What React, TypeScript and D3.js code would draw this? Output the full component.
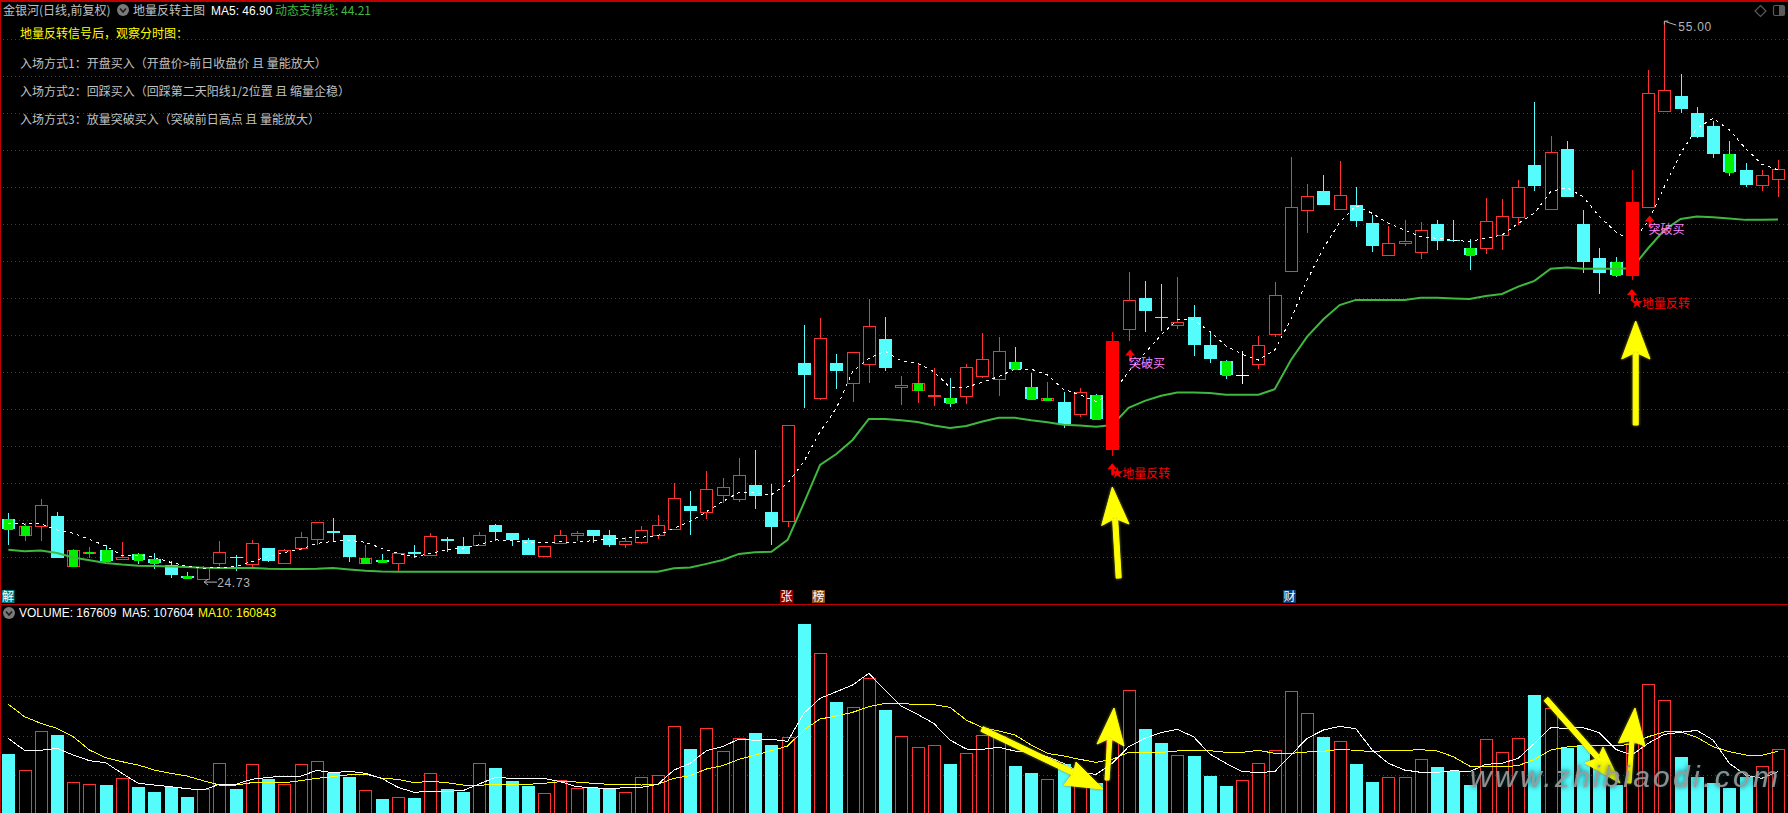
import React from "react";
import * as d3 from "d3";

const W = 1788;
const H = 813;

const kinds = ("g m u d m m g u g g d g u u d u d u u u d d m g u d u d d u d d d u u u d d u u " +
  "u u d u u u d d u d u d u u d u m u g u u u g g m d u g s u d d u d d g w u u u " +
  "u d u d d u u u d d g u u u d u d d d g s u u d d d g d u u").split(" ");

const opens = [27.96,27.11,27.60,28.13,25.43,26.14,26.26,25.81,26.07,25.81,25.45,24.87,24.73,25.60,25.90,25.54,26.39,25.56,26.41,26.90,
  27.31,27.10,25.60,25.74,25.56,26.17,26.03,26.86,26.48,26.57,27.64,27.21,26.83,25.98,26.65,27.10,27.37,27.10,26.63,26.74,
  27.10,27.44,28.67,28.36,29.29,29.07,29.81,28.35,27.88,36.43,34.55,36.43,35.36,36.39,37.73,35.11,34.98,34.64,34.53,34.65,
  35.74,35.58,36.48,35.13,34.44,34.31,33.68,34.69,31.73,38.29,39.95,38.92,38.51,38.92,37.40,36.52,35.74,36.39,38.02,41.44,
  44.71,45.76,44.80,45.00,44.02,42.30,42.94,42.47,43.97,43.08,42.67,42.68,43.39,44.37,47.17,44.80,48.04,43.97,42.12,41.91,
  41.15,44.91,50.12,50.91,49.99,49.28,47.77,46.90,46.08,46.41];
const closes = [27.42,27.60,28.71,25.85,26.26,26.19,25.70,25.88,25.74,25.56,24.93,24.78,25.38,26.16,25.87,26.64,25.69,26.26,26.97,27.78,
  27.22,25.90,25.85,25.63,26.10,26.08,27.02,26.79,26.07,27.08,27.26,26.83,26.01,26.48,27.08,27.21,27.04,26.56,26.76,27.35,
  27.62,29.09,28.40,29.58,29.68,30.34,29.21,27.53,33.05,35.78,37.77,36.00,37.01,38.42,36.16,35.22,35.33,34.69,34.24,36.19,
  36.63,37.06,36.09,34.46,34.53,33.14,34.84,33.41,37.62,39.83,39.27,38.89,38.65,37.42,36.66,35.76,35.78,37.39,40.10,44.87,
  45.47,45.00,45.52,44.15,42.77,42.92,43.05,43.62,43.06,43.03,42.29,44.11,44.38,45.96,46.03,47.86,45.45,41.91,41.31,41.18,
  45.16,51.06,51.22,50.21,48.69,47.77,46.77,46.07,46.61,46.93];
const highs = [28.31,27.75,29.05,28.34,26.32,26.45,26.54,26.72,26.10,26.12,25.69,25.09,25.41,26.77,25.99,26.81,26.39,26.32,27.26,27.82,
  28.02,27.10,26.55,26.07,26.10,26.55,27.20,27.01,26.97,27.24,27.68,27.21,26.92,26.50,27.37,27.32,27.37,27.37,26.97,27.59,
  28.18,29.90,29.49,30.55,30.19,31.28,31.71,29.88,33.05,38.49,38.87,36.92,37.01,39.90,38.93,35.72,36.41,36.16,35.61,36.37,
  38.05,37.84,37.28,35.89,35.40,34.85,35.07,34.73,38.11,41.35,40.88,40.71,41.07,39.56,38.16,36.59,37.10,37.91,40.80,47.58,
  46.14,46.63,47.37,45.98,44.46,43.86,44.19,44.08,44.19,44.19,43.15,45.36,45.31,46.34,50.59,48.74,48.47,44.73,42.67,42.16,
  46.90,52.32,55.00,52.11,50.32,49.56,48.47,47.28,46.90,47.44];
const lows = [26.57,26.77,26.77,25.85,25.34,25.87,25.65,25.74,25.52,25.23,24.78,24.75,24.73,25.43,25.16,25.36,25.63,25.54,26.26,26.54,
  26.75,25.63,25.56,25.60,25.14,25.83,25.98,26.17,26.07,26.56,26.79,26.52,26.01,25.92,26.65,26.79,26.68,26.47,26.41,26.61,
  26.88,27.44,27.10,27.99,28.85,28.89,28.51,26.56,27.53,33.99,34.42,35.02,34.33,35.36,36.00,34.15,34.27,34.11,34.06,34.22,
  35.63,34.65,36.05,34.46,34.42,32.92,33.52,33.33,31.40,37.64,38.13,38.18,38.29,36.83,36.44,35.58,35.31,36.12,37.82,41.44,
  43.50,45.00,44.80,43.82,42.47,42.30,42.77,42.09,42.56,43.00,41.47,42.34,42.56,43.91,45.78,44.80,45.45,41.33,40.17,41.11,
  40.93,44.91,50.12,50.01,48.63,47.55,46.57,45.96,45.76,45.43];

const ma5 = [27.73,27.69,27.71,27.37,27.19,26.86,26.50,25.98,26.01,25.88,25.61,25.41,25.29,25.34,25.38,25.65,25.92,26.14,26.32,26.64,
  26.75,26.81,26.70,26.37,26.10,25.90,26.10,26.29,26.38,26.56,26.83,26.79,26.68,26.68,26.72,26.70,26.79,26.86,26.92,26.97,
  27.06,27.46,27.82,28.36,28.91,29.41,29.39,29.27,29.90,31.08,32.70,33.97,35.96,36.68,37.07,36.54,36.41,35.96,35.11,35.11,
  35.38,35.69,36.09,36.09,35.78,35.00,34.70,34.33,34.78,35.96,36.95,37.95,38.76,38.79,38.13,37.35,36.90,36.59,37.13,38.80,
  40.93,42.65,44.04,44.96,44.55,44.00,43.64,43.28,43.19,43.10,43.01,43.19,43.37,44.00,44.55,45.72,45.94,45.45,44.37,43.55,
  43.01,44.09,45.99,47.80,49.16,49.70,49.07,48.07,47.21,46.90];
const support = [26.30,26.21,26.25,26.12,25.88,25.72,25.58,25.49,25.43,25.41,25.38,25.36,25.32,25.31,25.31,25.31,25.27,25.25,25.25,25.27,
  25.31,25.23,25.16,25.11,25.10,25.10,25.10,25.10,25.10,25.10,25.10,25.10,25.10,25.10,25.10,25.10,25.10,25.10,25.10,25.10,
  25.10,25.29,25.33,25.53,25.74,26.07,26.16,26.19,26.83,28.82,30.90,31.49,32.25,33.39,33.39,33.32,33.23,33.03,32.90,33.01,
  33.25,33.45,33.45,33.32,33.21,33.08,33.03,32.97,33.06,34.00,34.37,34.65,34.82,34.82,34.80,34.71,34.71,34.71,35.00,36.59,
  37.86,38.80,39.57,39.85,39.85,39.85,39.85,39.97,39.97,39.93,39.90,40.06,40.17,40.57,40.88,41.54,41.60,41.54,41.54,41.54,
  41.56,42.65,43.64,44.24,44.37,44.33,44.26,44.19,44.19,44.21];

const volumes = [153500,111000,212400,202900,79800,74600,72800,90200,67600,54600,68500,41600,61600,129200,62400,126600,88400,74600,126600,134400,
  104900,93600,59000,36400,40700,39000,103200,62400,54600,129200,117000,83200,70200,51200,85000,64200,65900,62400,53800,92800,
  98000,225400,166500,220200,160400,194200,208100,176900,197700,491600,415300,288700,274800,350300,267900,199400,170800,176000,127400,155200,
  202000,200300,122200,104000,87600,127400,88400,78000,189900,319100,218500,182100,150000,148300,96200,70200,85000,129200,163000,316500,
  259200,197700,186400,127400,80600,92800,92800,139600,119600,109200,72800,191600,157800,194200,306900,272200,169900,176000,137900,72800,
  181200,334700,293000,145700,94500,78000,65000,94500,121400,167609];
const volMa5 = [194200,163000,163000,168200,150900,136100,130900,103200,77200,72800,68500,63300,59800,74600,74600,87600,92800,95400,95400,111000,
  104900,108400,103200,90200,66800,53800,56400,56400,58100,75400,92800,90200,90200,90200,81500,68500,65900,63300,65900,66800,
  74600,111800,129200,162100,172500,192500,189000,191600,186400,259200,298200,315600,332900,363300,319900,278300,256600,233200,189900,166500,
  165600,170800,161300,156900,146500,129200,104900,100600,129200,172500,194200,208900,217600,198500,153500,129200,107500,105800,107500,150900,
  194200,215900,225400,219400,163900,129200,111800,105800,105800,110100,107500,126600,129200,142200,181200,222000,220200,222000,208900,165600,
  150900,181200,204600,209800,215000,189900,129200,98800,90200,107604];
const volMa10 = [282600,250600,233200,220200,198500,163900,143900,133500,124800,111800,103200,96200,84100,72800,72800,78900,79800,78900,84100,90200,
  94500,99700,101400,90200,87600,78900,82400,78900,72800,72000,74600,74600,74600,77200,81500,80600,77200,74600,74600,72800,
  74600,90200,97100,114400,123100,139600,150900,162100,174300,215900,244500,252300,261800,276600,285200,284400,282600,281800,274800,241900,
  222000,213300,202900,176900,155200,148300,139600,131800,139600,157800,157800,157800,161300,162100,162100,157800,157800,163000,155200,155200,
  158700,160400,165600,163000,159500,163000,163000,164700,161300,146500,122200,121400,120500,123100,139600,163900,171700,176000,176000,174300,
  179500,198500,210700,211500,196800,172500,159500,150900,150000,160843];

const lowSignals = [68, 100];
const breakSignals = [69, 101];
const extremeLabels = ["24.73", "55.00"];

const headerNotes = [
  "入场方式1：开盘买入（开盘价>前日收盘价 且 量能放大）",
  "入场方式2：回踩买入（回踩第二天阳线1/2位置 且 缩量企稳）",
  "入场方式3：放量突破买入（突破前日高点 且 量能放大）",
];
const eventTags = [
  { label: "解", index: 0, fill: "#007b80" },
  { label: "张", index: 48, fill: "#8a0000" },
  { label: "榜", index: 50, fill: "#8a4a10" },
  { label: "财", index: 79, fill: "#0a3d78" },
];

const RED = "#ff3232";
const CYAN = "#54fcfc";
const GREEN = "#00f000";
const GRID = "#c80000";
const CN = "'Noto Sans CJK SC', sans-serif";
const LAT = "'Liberation Sans', Arial, sans-serif";

const x = d3.scaleLinear().domain([0, 109]).range([8.3, 1778]);
const y = d3.scaleLinear().domain([24.73, 55]).range([578.6, 20.6]);
const yVol = d3.scaleLinear().domain([0, 500000]).range([813, 620.8]);

const idx = d3.range(opens.length);
const priceLine = (vals: number[]) => d3.line<number>().x((i) => x(i)).y((i) => y(vals[i]))(idx) as string;
const volLine = (vals: number[]) => d3.line<number>().x((i) => x(i)).y((i) => yVol(vals[i]))(idx) as string;

const mainGrid = d3.range(15).map((k) => 39.5 + 37 * k);
const volGrid = [656.5, 696.5, 736.5, 775.5];

function Icon({ cx, cy }: { cx: number; cy: number }) {
  return (
    <g>
      <circle cx={cx} cy={cy} r={6} fill="#7a7a7a" />
      <path d={`M${cx - 3} ${cy - 1.5}L${cx} ${cy + 2}L${cx + 3} ${cy - 1.5}`} fill="none" stroke="#1c1c1c" strokeWidth={1.6} />
    </g>
  );
}

function Candle({ i }: { i: number }) {
  const k = kinds[i];
  const cx = Math.round(x(i));
  const top = Math.round(y(Math.max(opens[i], closes[i])));
  const bot = Math.round(y(Math.min(opens[i], closes[i])));
  const hi = Math.round(y(highs[i]));
  const lo = Math.round(y(lows[i]));
  const up = k === "u" || k === "m";
  const col = k === "w" ? "#ffffff" : k === "s" ? "#ff0000" : up ? RED : CYAN;
  const h = Math.max(1, bot - top);
  return (
    <g shapeRendering="crispEdges">
      {up ? (
        <>
          <line x1={cx + 0.5} x2={cx + 0.5} y1={hi} y2={top} stroke={col} />
          <line x1={cx + 0.5} x2={cx + 0.5} y1={bot} y2={lo} stroke={col} />
          <rect x={cx - 5.5} y={top + 0.5} width={12} height={h} fill="#000" stroke={col} />
        </>
      ) : (
        <>
          <line x1={cx + 0.5} x2={cx + 0.5} y1={hi} y2={lo} stroke={col} />
          <rect x={cx - 6} y={top} width={13} height={h} fill={col} />
        </>
      )}
      {(k === "g" || k === "m") && <rect x={cx - 4} y={top} width={9} height={h + 1} fill={GREEN} />}
    </g>
  );
}

function YellowArrow({ d }: { d: string }) {
  return <path d={d} fill="#ffff00" stroke="#ffff00" strokeWidth={1} strokeLinejoin="round" filter="url(#arrowGlow)" />;
}

function arrowPath(tail: [number, number], tip: [number, number], left: [number, number], right: [number, number], notch: [number, number], w: number) {
  const dx = notch[0] - tail[0];
  const dy = notch[1] - tail[1];
  const len = Math.hypot(dx, dy);
  const nx = (-dy / len) * (w / 2);
  const ny = (dx / len) * (w / 2);
  const p = (a: number, b: number) => `${a.toFixed(1)} ${b.toFixed(1)}`;
  return `M${p(tail[0] + nx, tail[1] + ny)}L${p(notch[0] + nx, notch[1] + ny)}L${p(left[0], left[1])}L${p(tip[0], tip[1])}L${p(right[0], right[1])}L${p(notch[0] - nx, notch[1] - ny)}L${p(tail[0] - nx, tail[1] - ny)}Z`;
}

export default function App() {
  React.useEffect(() => {
    document.body.style.margin = "0";
    document.body.style.background = "#000";
    document.documentElement.style.overflow = "hidden";
  }, []);

  const hollow = idx.filter((i) => kinds[i] !== "s");
  const solid = idx.filter((i) => kinds[i] === "s");

  return (
    <svg width={W} height={H} viewBox={`0 0 ${W} ${H}`} style={{ position: "fixed", left: 0, top: 0, background: "#000", display: "block" }}>
      <defs>
        <filter id="arrowGlow" x="-30%" y="-30%" width="160%" height="160%">
          <feGaussianBlur in="SourceAlpha" stdDeviation="1.6" result="b" />
          <feFlood floodColor="#8a8a30" result="c" />
          <feComposite in="c" in2="b" operator="in" result="s" />
          <feMerge>
            <feMergeNode in="s" />
            <feMergeNode in="SourceGraphic" />
          </feMerge>
        </filter>
        <filter id="markGlow" x="-5%" y="-30%" width="110%" height="160%">
          <feGaussianBlur in="SourceAlpha" stdDeviation="2.6" result="b" />
          <feFlood floodColor="#0f3f46" result="c" />
          <feComposite in="c" in2="b" operator="in" result="s" />
          <feMerge>
            <feMergeNode in="s" />
            <feMergeNode in="SourceGraphic" />
          </feMerge>
        </filter>
      </defs>
      <rect width={W} height={H} fill="#000" />

      {/* grid */}
      <g shapeRendering="crispEdges" stroke={GRID} strokeDasharray="1 3">
        {mainGrid.map((g) => <line key={g} x1={3} x2={W} y1={g} y2={g} />)}
        {volGrid.map((g) => <line key={g} x1={3} x2={W} y1={g} y2={g} />)}
      </g>

      {/* frame */}
      <g shapeRendering="crispEdges" fill="#c00000">
        <rect x={0} y={0} width={W} height={1.5} />
        <rect x={0} y={0} width={1} height={H} />
        <rect x={0} y={604} width={W} height={1} />
      </g>

      {/* candles */}
      {hollow.map((i) => <Candle key={i} i={i} />)}
      <path d={priceLine(support)} fill="none" stroke="#3fb83f" strokeWidth={2} />
      <path d={priceLine(ma5)} fill="none" stroke="#ffffff" strokeWidth={1} strokeDasharray="3 4" shapeRendering="crispEdges" />
      {solid.map((i) => <Candle key={i} i={i} />)}

      {/* signals */}
      {lowSignals.map((i, n) => {
        const cx = x(i);
        const base = y(lows[i]);
        const a = base + (n === 0 ? 7.5 : 9);
        const t = base + (n === 0 ? 17.5 : 23);
        const star = d3.symbol().type(d3.symbolStar).size(42)() as string;
        return (
          <g key={i} fill="#ff0000">
            <path d={`M${cx} ${a}L${cx + 5} ${a + 6}L${cx + 2} ${a + 6}L${cx + 2} ${a + 12}L${cx - 1} ${a + 12}L${cx - 1} ${a + 6}L${cx - 5} ${a + 6}Z`} />
            <path d={star} transform={`translate(${cx + 5} ${t})`} />
            <text x={cx + 10} y={t + 5} fontFamily={CN} fontSize={12}>地量反转</text>
          </g>
        );
      })}
      {breakSignals.map((i) => {
        const cx = x(i) + 1.5;
        const a = y(lows[i]) + 9;
        return (
          <g key={i}>
            <path fill="#ff0000" d={`M${cx} ${a}L${cx + 5} ${a + 6}L${cx + 2} ${a + 6}L${cx + 2} ${a + 12}L${cx - 1} ${a + 12}L${cx - 1} ${a + 6}L${cx - 5} ${a + 6}Z`} />
            <text x={cx - 1} y={a + 18} fontFamily={CN} fontSize={12} fill="#ff80ff">突破买</text>
          </g>
        );
      })}

      {/* extremes */}
      <g fill="#b4b4b4" stroke="none" fontFamily={LAT} fontSize={12}>
        <path d={`M${x(12) + 14} ${y(24.73) + 3.5}H${x(12) + 1}l4 -3m-4 3l4 3`} fill="none" stroke="#b4b4b4" />
        <text x={x(12) + 14} y={y(24.73) + 8} letterSpacing={0.7}>{extremeLabels[0]}</text>
        <path d={`M${x(102) + 1} ${y(55) + 1}l11 3.5`} fill="none" stroke="#b4b4b4" />
        <path d={`M${x(102)} ${y(55) + 4}v-3.5h4`} fill="none" stroke="#b4b4b4" />
        <text x={x(102) + 14} y={y(55) + 10.5} letterSpacing={0.7}>{extremeLabels[1]}</text>
      </g>

      {/* event tags */}
      {eventTags.map((t) => {
        const l = Math.round(x(t.index)) - 7 + (t.index === 0 ? 0.5 : -1);
        return (
          <g key={t.label}>
            <rect x={l} y={590} width={13} height={13} fill={t.fill} />
            <text x={l + 6.5} y={601} textAnchor="middle" fontFamily={CN} fontSize={12} fill="#fff">{t.label}</text>
          </g>
        );
      })}

      {/* main arrows */}
      <YellowArrow d={arrowPath([1118.7, 578], [1112.3, 487], [1101.7, 525.5], [1129, 524], [1115, 517], 5)} />
      <YellowArrow d={arrowPath([1635.7, 425], [1635.7, 321], [1621.7, 359], [1650, 359], [1635.7, 351], 5)} />

      {/* volume */}
      <g shapeRendering="crispEdges">
        {idx.map((i) => {
          const upBar = kinds[i] === "u" || kinds[i] === "m" || kinds[i] === "s" || kinds[i] === "w";
          const cx = Math.round(x(i));
          const t = Math.round(yVol(volumes[i]));
          return upBar ? (
            <rect key={i} x={cx - 5.5} y={t + 0.5} width={12} height={H - t + 4} fill="#000" stroke={RED} />
          ) : (
            <rect key={i} x={cx - 6} y={t} width={13} height={H - t} fill={CYAN} />
          );
        })}
      </g>
      <path d={volLine(volMa10)} fill="none" stroke="#ffff00" strokeWidth={1} shapeRendering="crispEdges" />
      <path d={volLine(volMa5)} fill="none" stroke="#ffffff" strokeWidth={1} shapeRendering="crispEdges" />

      <YellowArrow d={arrowPath([982, 729], [1103, 789], [1076, 762], [1064, 785], [1074, 773], 5)} />
      <YellowArrow d={arrowPath([1107, 780], [1114, 708], [1097, 744], [1124, 746], [1110, 737], 4)} />
      <YellowArrow d={arrowPath([1546, 699], [1620, 783], [1603, 747], [1585, 763], [1599, 759], 5)} />
      <YellowArrow d={arrowPath([1629, 783], [1635, 708], [1618.5, 743], [1645, 746], [1632, 740], 4)} />

      {/* watermark */}
      <text x={1470} y={787} fontFamily={LAT} fontStyle="italic" fontSize={30} textLength={308} lengthAdjust="spacing" fill="#9a9a9a" fillOpacity={0.9} filter="url(#markGlow)">www.zhibiaodi.com</text>

      {/* header */}
      <g fontFamily={CN} fontSize={12}>
        <text x={3} y={15} fill="#c0c0c0">金银河(日线,前复权)</text>
        <Icon cx={123} cy={10} />
        <text x={133} y={15} fill="#c0c0c0">地量反转主图</text>
        <text x={211} y={15} fill="#ffffff" fontFamily={LAT}>MA5: 46.90</text>
        <text x={275} y={15} fill="#3fb83f">动态支撑线: 44.21</text>
        <text x={20} y={38} fill="#ffff00">地量反转信号后，观察分时图：</text>
        {headerNotes.map((t, n) => <text key={t} x={20} y={68 + n * 27.8} fill="#c0c0c0">{t}</text>)}
      </g>
      <g fontFamily={LAT} fontSize={12}>
        <Icon cx={9} cy={613} />
        <text x={19} y={617} fill="#ffffff">VOLUME: 167609</text>
        <text x={122} y={617} fill="#ffffff">MA5: 107604</text>
        <text x={198} y={617} fill="#ffff00">MA10: 160843</text>
      </g>

      {/* top right icons */}
      <g fill="none" stroke="#5a5a5a" strokeWidth={1.2}>
        <path d="M1760.5 5.5l5.5 5.5l-5.5 5.5l-5.5 -5.5Z" />
        <rect x={1773.5} y={5.5} width={11} height={10} rx={1.5} />
        <rect x={1779} y={6} width={5} height={9} fill="#5a5a5a" stroke="none" />
      </g>
    </svg>
  );
}
